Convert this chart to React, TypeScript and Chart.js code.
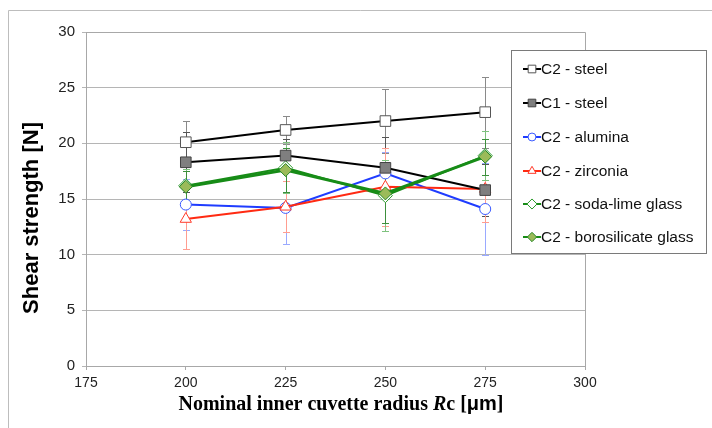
import React, { useEffect, useRef } from "react";
import { Chart, registerables } from "chart.js";

Chart.register(...registerables);

const xValues = [200, 225, 250, 275];
const xTicks = [175, 200, 225, 250, 275, 300];

const c2Steel = [20.1, 21.2, 22.0, 22.8];
const c2SteelErr = [1.9, 1.3, 2.9, 3.2];
const c1Steel = [18.3, 18.9, 17.8, 15.8];
const c1SteelErr = [2.7, 1.5, 2.8, 2.3];
const alumina = [14.5, 14.2, 17.3, 14.1];
const aluminaErr = [2.3, 3.2, 1.9, 4.1];
const zirconia = [13.2, 14.3, 16.1, 15.9];
const zirconiaErr = [2.7, 2.3, 3.5, 3.0];
const sodaLime = [16.2, 17.8, 15.3, 18.9];
const sodaLimeErr = [1.5, 2.3, 3.2, 2.2];
const borosilicate = [16.1, 17.6, 15.5, 18.8];
const borosilicateErr = [1.4, 2.0, 2.7, 1.6];

const seriesLabels = [
  "C2 - steel",
  "C1 - steel",
  "C2 - alumina",
  "C2 - zirconia",
  "C2 - soda-lime glass",
  "C2 - borosilicate glass",
];

type Style = {
  line: string;
  lineWidth: number;
  fill: string;
  border: string;
  shape: string;
  radius: number;
  err: string;
  order: number;
};

const styles: Style[] = [
  { line: "#000000", lineWidth: 2, fill: "#ffffff", border: "#555555", shape: "rect", radius: 7.5, err: "#8a8a8a", order: 1 },
  { line: "#000000", lineWidth: 2, fill: "#7f7f7f", border: "#444444", shape: "rect", radius: 7.5, err: "#555555", order: 2 },
  { line: "#1f3cff", lineWidth: 2, fill: "#ffffff", border: "#3a5aff", shape: "circle", radius: 5.5, err: "#9aaaff", order: 4 },
  { line: "#ff2a12", lineWidth: 2, fill: "#ffffff", border: "#ff3a2a", shape: "triangle", radius: 6.5, err: "#ff9d90", order: 3 },
  { line: "#178c17", lineWidth: 2, fill: "#ffffff", border: "#2a9a2a", shape: "rectRot", radius: 7, err: "#7fc27f", order: 5 },
  { line: "#178c17", lineWidth: 3, fill: "#9bbb59", border: "#2a8a2a", shape: "rectRot", radius: 6.5, err: "#3d8f3d", order: 0 },
];

const seriesValues = [c2Steel, c1Steel, alumina, zirconia, sodaLime, borosilicate];
const seriesErrors = [c2SteelErr, c1SteelErr, aluminaErr, zirconiaErr, sodaLimeErr, borosilicateErr];

function drawMarker(ctx: CanvasRenderingContext2D, shape: string, x: number, y: number, r: number, fill: string, border: string) {
  ctx.save();
  ctx.beginPath();
  if (shape === "rect") {
    const s = Math.SQRT1_2 * r;
    ctx.rect(x - s, y - s, 2 * s, 2 * s);
  } else if (shape === "circle") {
    ctx.arc(x, y, r, 0, Math.PI * 2);
  } else if (shape === "triangle") {
    ctx.moveTo(x, y - r);
    ctx.lineTo(x + r * 0.866, y + r * 0.5);
    ctx.lineTo(x - r * 0.866, y + r * 0.5);
    ctx.closePath();
  } else {
    ctx.moveTo(x, y - r);
    ctx.lineTo(x + r, y);
    ctx.lineTo(x, y + r);
    ctx.lineTo(x - r, y);
    ctx.closePath();
  }
  ctx.fillStyle = fill;
  ctx.fill();
  ctx.strokeStyle = border;
  ctx.lineWidth = 1;
  ctx.stroke();
  ctx.restore();
}

const decorPlugin = {
  id: "decor",
  beforeDraw(chart: any) {
    const ctx = chart.ctx as CanvasRenderingContext2D;
    ctx.save();
    ctx.fillStyle = "#ffffff";
    ctx.fillRect(0, 0, chart.width, chart.height);
    ctx.strokeStyle = "#bdbdbd";
    ctx.lineWidth = 1;
    ctx.beginPath();
    ctx.moveTo(8.5, chart.height);
    ctx.lineTo(8.5, 10.5);
    ctx.lineTo(chart.width, 10.5);
    ctx.stroke();
    ctx.restore();
  },
  beforeDatasetsDraw(chart: any) {
    const ctx = chart.ctx as CanvasRenderingContext2D;
    const xs = chart.scales.x;
    const ys = chart.scales.y;
    const a = chart.chartArea;
    ctx.save();
    ctx.strokeStyle = "#a8a8a8";
    ctx.lineWidth = 1;
    ctx.beginPath();
    ctx.moveTo(a.left, a.top + 0.5);
    ctx.lineTo(Math.round(a.right) + 0.5, a.top + 0.5);
    ctx.lineTo(Math.round(a.right) + 0.5, a.bottom);
    ctx.stroke();
    seriesValues.forEach((vals, si) => {
      const errs = seriesErrors[si];
      ctx.strokeStyle = styles[si].err;
      ctx.lineWidth = 1;
      vals.forEach((v, i) => {
        const x = Math.round(xs.getPixelForValue(xValues[i])) + 0.5;
        const yt = Math.round(ys.getPixelForValue(v + errs[i])) + 0.5;
        const yb = Math.round(ys.getPixelForValue(v - errs[i])) + 0.5;
        ctx.beginPath();
        ctx.moveTo(x, yt);
        ctx.lineTo(x, yb);
        ctx.moveTo(x - 3.5, yt);
        ctx.lineTo(x + 3.5, yt);
        ctx.moveTo(x - 3.5, yb);
        ctx.lineTo(x + 3.5, yb);
        ctx.stroke();
      });
    });
    ctx.restore();
  },
  afterDraw(chart: any) {
    const ctx = chart.ctx as CanvasRenderingContext2D;
    ctx.save();
    // Y title
    ctx.translate(32, 218);
    ctx.rotate(-Math.PI / 2);
    ctx.fillStyle = "#000000";
    ctx.font = "bold 22px 'Liberation Sans', Arial, sans-serif";
    ctx.textAlign = "center";
    ctx.textBaseline = "middle";
    ctx.fillText("Shear strength [N]", 0, 0);
    ctx.restore();

    // X title with mixed fonts
    const parts: [string, string][] = [
      ["Nominal inner cuvette radius ", "bold 20px 'Liberation Serif', 'Times New Roman', serif"],
      ["R", "italic bold 20px 'Liberation Serif', 'Times New Roman', serif"],
      ["c [", "bold 20px 'Liberation Serif', 'Times New Roman', serif"],
      ["μm", "bold 20px 'Liberation Sans', Arial, sans-serif"],
      ["]", "bold 20px 'Liberation Serif', 'Times New Roman', serif"],
    ];
    ctx.save();
    let total = 0;
    parts.forEach(([t, f]) => {
      ctx.font = f;
      total += ctx.measureText(t).width;
    });
    let x = 341 - total / 2;
    ctx.fillStyle = "#000000";
    ctx.textBaseline = "alphabetic";
    ctx.textAlign = "left";
    parts.forEach(([t, f]) => {
      ctx.font = f;
      ctx.fillText(t, x, 410);
      x += ctx.measureText(t).width;
    });
    ctx.restore();

    // Legend
    ctx.save();
    ctx.fillStyle = "#ffffff";
    ctx.fillRect(511, 50, 195, 203);
    ctx.strokeStyle = "#7a7a7a";
    ctx.lineWidth = 1;
    ctx.strokeRect(511.5, 50.5, 195, 203);
    const rowY = [69, 103, 137, 171, 204, 237];
    seriesLabels.forEach((label, i) => {
      const st = styles[i];
      const y = rowY[i];
      ctx.strokeStyle = st.line;
      ctx.lineWidth = 2;
      ctx.beginPath();
      ctx.moveTo(523, y);
      ctx.lineTo(541, y);
      ctx.stroke();
      drawMarker(ctx, st.shape, 532, y, st.radius * 0.72, st.fill, st.border);
      ctx.fillStyle = "#111111";
      ctx.font = "15.5px 'Liberation Sans', Arial, sans-serif";
      ctx.textBaseline = "middle";
      ctx.textAlign = "left";
      ctx.fillText(label, 541, y + 1);
    });
    ctx.restore();
  },
};

export default function App() {
  const ref = useRef<HTMLCanvasElement | null>(null);
  useEffect(() => {
    if (!ref.current) return;
    const datasets = seriesValues.map((vals, si) => {
      const st = styles[si];
      return {
        label: seriesLabels[si],
        data: vals.map((v, i) => ({ x: xValues[i], y: v })),
        borderColor: st.line,
        borderWidth: st.lineWidth,
        backgroundColor: st.fill,
        pointBackgroundColor: st.fill,
        pointBorderColor: st.border,
        pointBorderWidth: 1,
        pointStyle: st.shape,
        pointRadius: st.radius,
        pointHoverRadius: st.radius,
        tension: 0,
        fill: false,
        order: st.order,
      };
    });
    const chart = new Chart(ref.current, {
      type: "line",
      data: { datasets },
      plugins: [decorPlugin],
      options: {
        animation: false,
        responsive: false,
        devicePixelRatio: 1,
        layout: { padding: { left: 0, right: 127, top: 32, bottom: 0 } },
        plugins: { legend: { display: false }, tooltip: { enabled: false } },
        scales: {
          x: {
            type: "linear",
            min: 175,
            max: 300,
            afterBuildTicks: (scale: any) => {
              scale.ticks = xTicks.map((v) => ({ value: v }));
            },
            afterFit: (scale: any) => {
              scale.height = 62;
            },
            ticks: {
              color: "#222222",
              font: { family: "'Liberation Sans', Arial, sans-serif", size: 14 },
              padding: 5,
              maxRotation: 0,
            },
            grid: { drawOnChartArea: false, drawTicks: true, tickLength: 4, color: "#a8a8a8" },
            border: { color: "#a8a8a8" },
          },
          y: {
            type: "linear",
            min: 0,
            max: 30,
            afterFit: (scale: any) => {
              scale.width = 86;
            },
            ticks: {
              stepSize: 5,
              color: "#222222",
              font: { family: "'Liberation Sans', Arial, sans-serif", size: 15 },
              padding: 7,
            },
            grid: { color: "#b5b5b5", tickLength: 4 },
            border: { color: "#a8a8a8" },
          },
        },
      },
    });
    return () => chart.destroy();
  }, []);
  return (
    <div style={{ position: "fixed", left: 0, top: 0, width: 712, height: 428, background: "#fff" }}>
      <canvas ref={ref} width={712} height={428} style={{ display: "block", width: 712, height: 428 }} />
    </div>
  );
}
